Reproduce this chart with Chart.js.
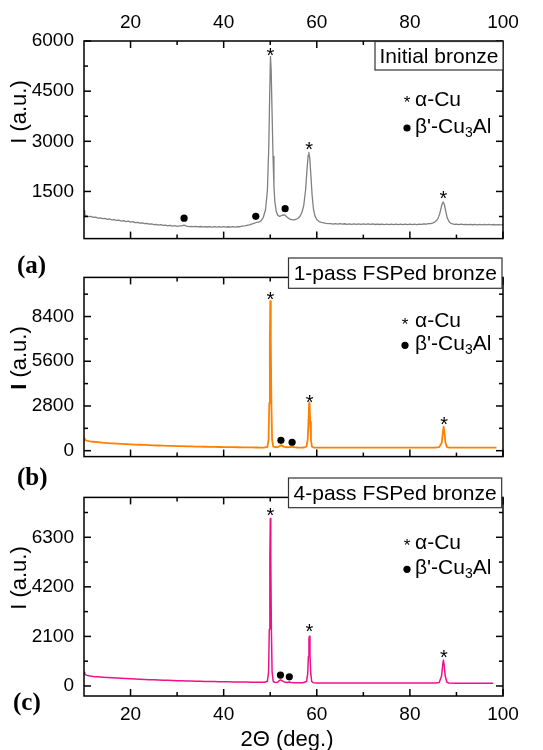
<!DOCTYPE html>
<html>
<head>
<meta charset="utf-8">
<script src="https://cdn.jsdelivr.net/npm/chart.js@4/dist/chart.umd.min.js"></script>
<style>
  html, body { margin: 0; padding: 0; background: #fff; }
  #wrap { position: relative; width: 543px; height: 750px; overflow: hidden; background: #fff; }
  #wrap canvas { position: absolute; left: 0; }
  .tag { position: absolute; font: bold 25px 'Liberation Serif', 'Times New Roman', serif; color: #000; line-height: 1; }
</style>
</head>
<body>
<div id="wrap">
  <canvas id="panelA" width="543" height="260" style="top:0px"></canvas>
  <canvas id="panelB" width="543" height="222" style="top:256px"></canvas>
  <canvas id="panelC" width="543" height="274" style="top:476px"></canvas>
  <div class="tag" style="left:17px;top:252px">(a)</div>
  <div class="tag" style="left:17px;top:464px">(b)</div>
  <div class="tag" style="left:13px;top:689px">(c)</div>
</div>
<script>
// 2θ axis ticks (shared by all three panels)
const X_TICKS = [20, 40, 60, 80, 100];
const X_MINOR = [30, 50, 70, 90];

// Intensity ticks for each panel
const Y_TICKS_A = [1500, 3000, 4500, 6000];
const Y_MINOR_A = [750, 2250, 3750, 5250];
const Y_TICKS_B = [0, 2800, 5600, 8400];
const Y_MINOR_B = [1400, 4200, 7000, 9800];
const Y_TICKS_C = [0, 2100, 4200, 6300];
const Y_MINOR_C = [1050, 3150, 5250, 7350];

// Panel titles
const TITLE_A = 'Initial bronze';
const TITLE_B = '1-pass FSPed bronze';
const TITLE_C = '4-pass FSPed bronze';

// (a) initial bronze: [2θ, I]
const SCAN_A = [
  [10,930],[10.15,840],[10.3,780],[10.6,770],[11,745],[11.5,755],[12,725],[12.5,735],[13,705],[13.5,712],
  [14,688],[14.5,695],[15,665],[15.5,676],[16,650],[16.5,660],[17,632],[17.5,640],[18,615],[18.5,628],
  [19,598],[19.5,610],[20,585],[20.5,596],[21,568],[21.5,578],[22,552],[22.5,560],[23,536],[23.5,548],
  [24,522],[24.5,532],[25,508],[25.5,518],[26,496],[26.5,506],[27,484],[27.5,495],[28,474],[28.5,484],
  [29,465],[29.5,476],[30,458],[30.5,470],[31,472],[31.5,495],[32,462],[32.5,450],[33,458],[33.5,445],
  [34,455],[34.5,442],[35,452],[35.5,440],[36,450],[36.5,437],[37,448],[37.5,436],[38,447],[38.5,434],
  [39,446],[39.5,433],[40,445],[40.5,432],[41,444],[41.5,432],[42,445],[42.5,435],[43,450],[43.5,445],
  [44,462],[44.5,468],[45,485],[45.5,500],[46,522],[46.5,545],[47,572],[47.5,585],[48,620],[48.5,720],
  [49,960],[49.4,1550],[49.7,2900],[49.9,4500],[50.05,5540],[50.2,5150],[50.4,3850],[50.6,2550],[50.8,1650],
  [51,1180],[51.3,900],[51.6,790],[52,755],[52.4,775],[52.8,800],[53.2,790],[53.6,735],[54,690],[54.4,665],
  [54.8,650],[55.2,648],[55.6,670],[56,700],[56.4,760],[56.8,870],[57.2,1080],[57.6,1550],[57.9,2150],
  [58.15,2580],[58.3,2665],[58.5,2480],[58.75,1950],[59,1380],[59.3,960],[59.6,770],[60,660],[60.5,600],
  [61,578],[61.5,560],[62,548],[62.5,538],[63,540],[63.5,525],[64,538],[64.5,522],[65,536],[65.5,520],
  [66,534],[66.5,518],[67,533],[67.5,517],[68,532],[68.5,516],[69,530],[69.5,515],[70,529],[70.5,514],
  [71,528],[71.5,513],[72,527],[72.5,512],[73,526],[73.5,512],[74,525],[74.5,511],[75,524],[75.5,510],
  [76,523],[76.5,510],[77,522],[77.5,509],[78,522],[78.5,508],[79,521],[79.5,508],[80,522],[80.5,509],
  [81,523],[81.5,510],[82,525],[82.5,514],[83,530],[83.5,520],[84,538],[84.5,535],[85,560],[85.5,600],
  [86,680],[86.4,830],[86.7,1010],[86.95,1140],[87.15,1184],[87.4,1110],[87.7,910],[88,720],[88.4,600],
  [88.8,545],[89.2,528],[89.6,515],[90,522],[90.5,508],[91,520],[91.5,506],[92,518],[92.5,505],[93,517],
  [93.5,504],[94,516],[94.5,503],[95,515],[95.5,502],[96,514],[96.5,502],[97,513],[97.5,501],[98,512],
  [98.5,500],[99,511],[99.5,500],[100,508]
];

// (b) 1-pass FSPed bronze: [2θ, I]
const SCAN_B = [
  [10,770],[10.15,700],[10.4,650],[10.8,610],[11.3,585],[12,560],[13,530],[14,500],[15,478],[16,458],
  [17,440],[18,424],[19,410],[20,398],[21,385],[22,372],[23,360],[24,348],[25,336],[26,325],[27,314],
  [28,304],[29,296],[30,288],[31,280],[32,272],[33,265],[34,258],[35,252],[36,246],[37,240],[38,235],
  [39,230],[40,226],[41,222],[42,218],[43,214],[44,210],[45,206],[46,203],[47,200],[48,198],[48.8,200],
  [49.4,240],[49.65,700],[49.8,3000],[49.92,7000],[50.02,9360],[50.12,7000],[50.25,3000],[50.4,700],
  [50.65,260],[51,215],[51.6,220],[52,280],[52.3,350],[52.6,300],[53,235],[53.6,215],[54.3,225],
  [54.7,258],[55.1,220],[55.8,200],[56.6,195],[57.3,200],[57.8,260],[58.05,700],[58.2,1700],[58.35,2950],
  [58.45,3020],[58.58,1800],[58.75,700],[58.95,260],[59.3,200],[60,192],[62,190],[64,189],[66,188],
  [68,188],[70,188],[72,187],[74,187],[76,187],[78,186],[80,186],[82,186],[84,187],[85.5,190],
  [86.3,220],[86.85,500],[87.1,1200],[87.25,1500],[87.4,1200],[87.65,500],[87.95,230],[88.4,192],
  [90,187],[92,186],[94,186],[96,186],[98.6,186]
];

// (c) 4-pass FSPed bronze: [2θ, I]
const SCAN_C = [
  [10,585],[10.15,520],[10.4,470],[10.8,440],[11.3,420],[12,405],[13,388],[14,372],[15,358],[16,345],
  [17,334],[18,322],[19,312],[20,303],[21,294],[22,285],[23,277],[24,268],[25,260],[26,252],[27,245],
  [28,238],[29,232],[30,226],[31,220],[32,214],[33,209],[34,204],[35,199],[36,194],[37,190],[38,186],
  [39,182],[40,178],[41,175],[42,172],[43,169],[44,166],[45,163],[46,160],[47,157],[48,155],[48.8,158],
  [49.4,200],[49.65,600],[49.8,2400],[49.92,5500],[50.02,7100],[50.12,5500],[50.25,2400],[50.4,600],
  [50.65,190],[51,150],[51.6,160],[51.9,220],[52.2,260],[52.5,230],[53,170],[53.6,150],[54.1,165],
  [54.5,150],[55.2,140],[56,135],[57,135],[57.8,190],[58.05,520],[58.2,1250],[58.32,2000],[58.42,2110],
  [58.54,1300],[58.72,500],[58.92,180],[59.3,135],[60,130],[62,128],[64,127],[66,126],[68,125],[70,125],
  [72,124],[74,124],[76,123],[78,123],[80,122],[82,122],[84,122],[85.5,125],[86.3,150],[86.8,420],
  [87.05,900],[87.2,1095],[87.35,900],[87.6,420],[87.95,160],[88.4,125],[90,120],[92,119],[94,118],
  [96,118],[97.9,117]
];

// α-Cu reflections marked with an asterisk: [2θ, I]
const STARS_A = [[50.06, 5690], [58.35, 2900], [87.2, 1430]];
const STARS_B = [[50.06, 9760], [58.45, 3300], [87.35, 1930]];
const STARS_C = [[50.06, 7400], [58.4, 2490], [87.3, 1410]];

// β'-Cu3Al reflections marked with a dot: [2θ, I]
const DOTS_A = [[31.5, 700], [46.9, 756], [53.2, 985]];
const DOTS_B = [[52.3, 647], [54.7, 529]];
const DOTS_C = [[52.2, 463], [54.1, 386]];

const SANS = "'Liberation Sans', Arial, sans-serif";

// Frame with inward ticks, phase markers, phase key, sample label box and axis titles
const decor = {
  id: 'decor',
  afterDatasetsDraw(chart, _args, o) {
    const { ctx, chartArea: a, scales: { x, y } } = chart;
    ctx.save();
    ctx.strokeStyle = '#000';
    ctx.lineWidth = 1.5;
    const seg = (x1, y1, x2, y2) => { ctx.beginPath(); ctx.moveTo(x1, y1); ctx.lineTo(x2, y2); ctx.stroke(); };

    // inward tick marks on all four sides
    const xt = (vals, len) => vals.forEach(v => {
      const p = x.getPixelForValue(v);
      seg(p, a.top, p, a.top + len);
      seg(p, a.bottom, p, a.bottom - len);
    });
    const yt = (vals, len) => vals.forEach(v => {
      const p = y.getPixelForValue(v);
      seg(a.left, p, a.left + len, p);
      seg(a.right, p, a.right - len, p);
    });
    xt(X_TICKS, 7); xt(X_MINOR, 4);
    yt(o.yMajor, 7); yt(o.yMinor, 4);
    ctx.strokeRect(a.left, a.top, a.right - a.left, a.bottom - a.top);

    // asterisks above the α-Cu peaks
    ctx.fillStyle = '#000';
    ctx.font = '20px ' + SANS;
    ctx.textAlign = 'center';
    ctx.textBaseline = 'alphabetic';
    o.stars.forEach(([t, v]) => {
      ctx.fillText('*', x.getPixelForValue(t), y.getPixelForValue(v) + 11);
    });

    // sample label box
    const b = o.box;
    ctx.fillStyle = '#fff';
    ctx.fillRect(b.l, b.t, b.r - b.l, b.b - b.t);
    ctx.strokeStyle = '#333';
    ctx.lineWidth = 1.2;
    ctx.strokeRect(b.l, b.t, b.r - b.l, b.b - b.t);
    ctx.fillStyle = '#000';
    ctx.font = '21px ' + SANS;
    ctx.textBaseline = 'middle';
    ctx.fillText(o.title, (b.l + b.r) / 2, (b.t + b.b) / 2 + 1);

    // phase key
    const k = o.key;
    ctx.font = '17px ' + SANS;
    ctx.textBaseline = 'alphabetic';
    ctx.textAlign = 'center';
    ctx.fillText('*', k.x, k.y1 + 8);
    ctx.beginPath();
    ctx.arc(k.x, k.y2 + 1, 3.6, 0, Math.PI * 2);
    ctx.fill();
    ctx.textAlign = 'left';
    ctx.textBaseline = 'middle';
    ctx.font = '21px ' + SANS;
    ctx.fillText('\u03b1-Cu', k.tx, k.y1);
    let cx = k.tx;
    const part1 = "\u03b2'-Cu";
    ctx.fillText(part1, cx, k.y2);
    cx += ctx.measureText(part1).width;
    ctx.font = '14px ' + SANS;
    ctx.fillText('3', cx, k.y2 + 6);
    cx += ctx.measureText('3').width;
    ctx.font = '21px ' + SANS;
    ctx.fillText('Al', cx, k.y2);

    // intensity axis title
    ctx.save();
    ctx.translate(20, o.yTitleY);
    ctx.rotate(-Math.PI / 2);
    ctx.textBaseline = 'middle';
    if (o.boldI) {
      ctx.font = 'bold 22px ' + SANS;
      const wI = ctx.measureText('I').width;
      ctx.font = '22px ' + SANS;
      const wR = ctx.measureText(' (a.u.)').width;
      const start = -(wI + wR) / 2;
      ctx.textAlign = 'left';
      ctx.font = 'bold 22px ' + SANS;
      ctx.fillText('I', start, 0);
      ctx.font = '22px ' + SANS;
      ctx.fillText(' (a.u.)', start + wI, 0);
    } else {
      ctx.textAlign = 'center';
      ctx.font = '22px ' + SANS;
      ctx.fillText('I (a.u.)', 0, 0);
    }
    ctx.restore();

    // 2θ axis title
    if (o.xTitleY) {
      ctx.textAlign = 'center';
      ctx.textBaseline = 'middle';
      ctx.font = '22px ' + SANS;
      ctx.fillText('2\u0398 (deg.)', 287, o.xTitleY);
    }
    ctx.restore();
  }
};

function makePanel(id, c) {
  const tickFont = { family: SANS, size: 19 };
  const plain = v => String(v);
  return new Chart(document.getElementById(id), {
    type: 'line',
    data: {
      datasets: [
        {
          data: c.scan.map(p => ({ x: p[0], y: p[1] })),
          borderColor: c.color,
          borderWidth: c.width,
          pointRadius: 0,
          tension: 0,
          fill: false,
          borderJoinStyle: 'round',
          order: 2
        },
        {
          type: 'scatter',
          data: c.dots.map(p => ({ x: p[0], y: p[1] })),
          pointRadius: 3.6,
          pointBackgroundColor: '#000',
          pointBorderWidth: 0,
          showLine: false,
          order: 1
        }
      ]
    },
    options: {
      responsive: false,
      animation: false,
      events: [],
      layout: { padding: c.padding },
      plugins: {
        legend: { display: false },
        tooltip: { enabled: false },
        decor: c.decor
      },
      scales: {
        x: {
          type: 'linear',
          min: 10,
          max: 100,
          position: c.xPos,
          display: c.xShow,
          grid: { display: false, drawTicks: false },
          border: { display: false },
          ticks: { font: tickFont, color: '#000', padding: 7, maxRotation: 0, autoSkip: false, callback: plain },
          afterBuildTicks: s => { s.ticks = X_TICKS.map(v => ({ value: v })); },
          afterFit: s => { s.height = c.xHeight; }
        },
        y: {
          type: 'linear',
          min: c.yMin,
          max: c.yMax,
          grid: { display: false, drawTicks: false },
          border: { display: false },
          ticks: { font: tickFont, color: '#000', padding: 10, autoSkip: false, callback: plain },
          afterBuildTicks: s => { s.ticks = c.yTicks.map(v => ({ value: v })); },
          afterFit: s => { s.width = 84; }
        }
      }
    },
    plugins: [decor]
  });
}

makePanel('panelA', {
  scan: SCAN_A, dots: DOTS_A, color: '#808080', width: 1.3,
  padding: { left: 0, right: 40, top: 0, bottom: 2 },
  xPos: 'top', xShow: true, xHeight: 41,
  yMin: 90, yMax: 6000, yTicks: Y_TICKS_A,
  decor: {
    yMajor: Y_TICKS_A, yMinor: Y_MINOR_A, stars: STARS_A, title: TITLE_A,
    box: { l: 375, r: 503, t: 41.5, b: 70 },
    key: { x: 407, tx: 415, y1: 100, y2: 127 },
    yTitleY: 112
  }
});

makePanel('panelB', {
  scan: SCAN_B, dots: DOTS_B, color: '#ff8000', width: 1.8,
  padding: { left: 0, right: 40, top: 2, bottom: 2 },
  xPos: 'bottom', xShow: false, xHeight: 0,
  yMin: -370, yMax: 10850, yTicks: Y_TICKS_B,
  decor: {
    yMajor: Y_TICKS_B, yMinor: Y_MINOR_B, stars: STARS_B, title: TITLE_B,
    box: { l: 288.5, r: 502, t: 2, b: 32.3 },
    key: { x: 405, tx: 415, y1: 65.7, y2: 88.3 },
    yTitleY: 102, boldI: true
  }
});

makePanel('panelC', {
  scan: SCAN_C, dots: DOTS_C, color: '#f0108a', width: 1.5,
  padding: { left: 0, right: 40, top: 2, bottom: 0 },
  xPos: 'bottom', xShow: true, xHeight: 54,
  yMin: -425, yMax: 7990, yTicks: Y_TICKS_C,
  decor: {
    yMajor: Y_TICKS_C, yMinor: Y_MINOR_C, stars: STARS_C, title: TITLE_C,
    box: { l: 288.5, r: 501.7, t: 2, b: 31.7 },
    key: { x: 407, tx: 415, y1: 67.3, y2: 92.3 },
    yTitleY: 102, xTitleY: 264
  }
});
</script>
</body>
</html>
